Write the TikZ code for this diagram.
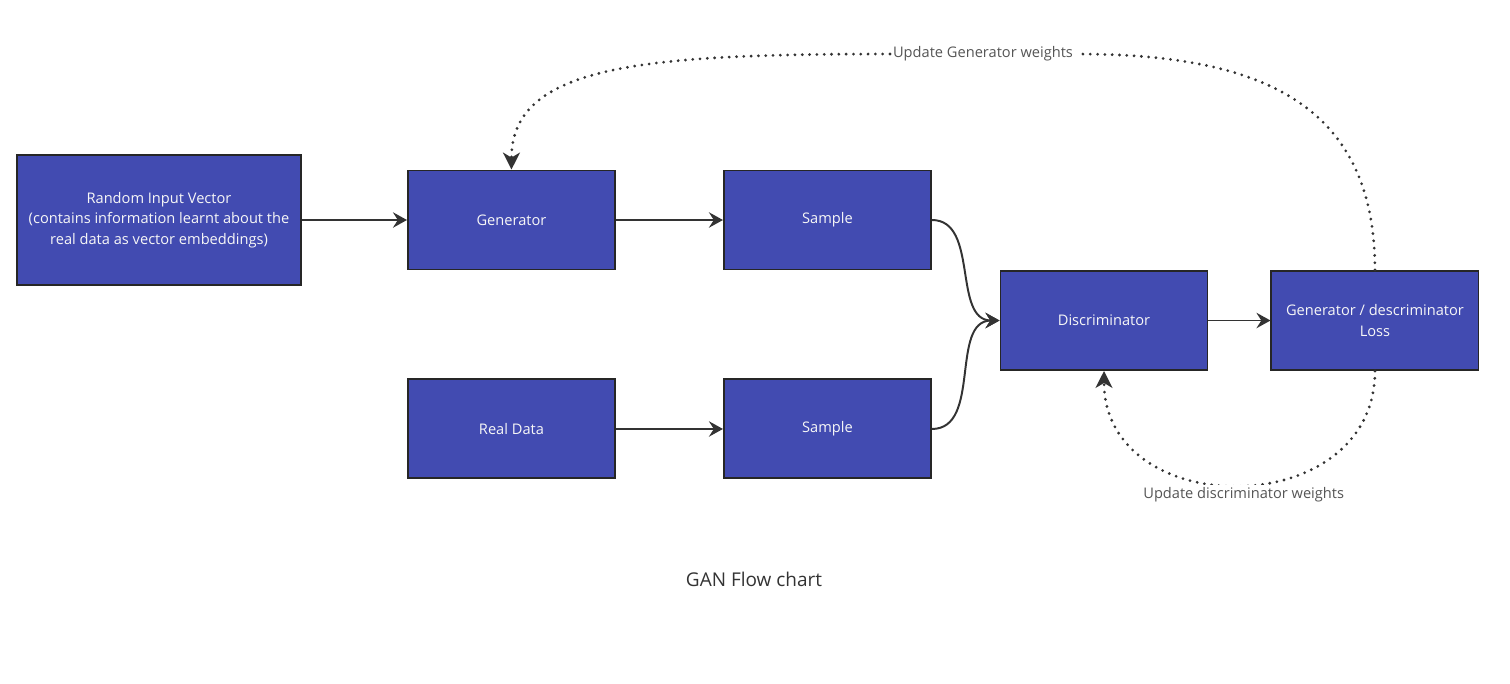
\documentclass[tikz,border=0pt]{standalone}
\usepackage{fontspec}
\setmainfont{Open Sans}
\usepackage{xcolor}
\usetikzlibrary{arrows.meta,shapes,backgrounds,calc,positioning}

\definecolor{boxblue}{RGB}{66,75,177}
\definecolor{boxline}{RGB}{38,38,38}
\definecolor{arrowgray}{RGB}{51,51,51}
\definecolor{labelgray}{RGB}{85,85,85}

\tikzset{
	block/.style={draw=boxline, line width=1.4pt, fill=boxblue, text=white!94!gray,
		minimum width=5.175cm, minimum height=2.475cm, align=center,
		font=\fontsize{10.4}{14.5}\selectfont},
	flow/.style={draw=arrowgray, line width=1.4pt, -{Stealth[length=10pt,width=11pt,inset=3.5pt]}},
	feedback/.style={draw=arrowgray, line width=2.2pt, line cap=round, dash pattern=on 0pt off 5.2pt,
		-{Stealth[length=12pt,width=12pt,inset=3.5pt]}},
	wlabel/.style={fill=white, text=labelgray, inner sep=2pt, font=\fontsize{10.4}{12}\selectfont}
}

\begin{document}
\begin{tikzpicture}

		\useasboundingbox (0,0) rectangle (37.75,-17.075);
		
		\node (rand) [block, minimum width=7.1cm, minimum height=3.25cm] at (3.975,-5.5) {Random Input Vector\\(contains information learnt about the\\real data as vector embeddings)};
		
		\node (gen) [block, right=2.625cm of rand] {Generator};
		
		\node (sample_G) [block, right=2.675cm of gen] {Sample};
		
		\node (real) [block, below=2.7cm of gen] {Real Data};
		
		\node (sample_R) [block, right=2.675cm of real] {Sample};
		
		\node (disc) [block] at (27.6,-8.0125) {Discriminator};
		
		\node (loss) [block, right=1.55cm of disc] {Generator / descriminator\\Loss};
		
		\node (upd_G) [wlabel] at (24.575,-1.35) {Update Generator weights};
		
		\node (title) [text=arrowgray, font=\fontsize{13.5}{15}\selectfont] at (18.85,-14.475) {GAN Flow chart};
		
		
		\draw [flow] (rand) to (gen);
		
		\draw [flow] (gen) to (sample_G);
		
		\draw [flow] (real) to (sample_R);
		
		\draw [flow] (sample_G.east) to[out=0, in=180] (disc.west);
		
		\draw [flow] (sample_R.east) to[out=0, in=180] (disc.west);
		
		\draw [flow] (disc) to (loss);
		
		
		% feedback loops
		\draw [feedback, -] (loss.north) .. controls +(0,4.3) and +(4.4,0) .. (upd_G.east);
		
		\draw [feedback] (upd_G.west) .. controls +(-6.25,0) and +(0,2.6) .. (gen.north);
		
		\draw [feedback] (loss.south) .. controls +(0,-3.8) and +(0,-3.8) .. node[wlabel, pos=0.5, xshift=3pt, yshift=-7pt] {Update discriminator weights} (disc.south);
		
\end{tikzpicture}
\end{document}
